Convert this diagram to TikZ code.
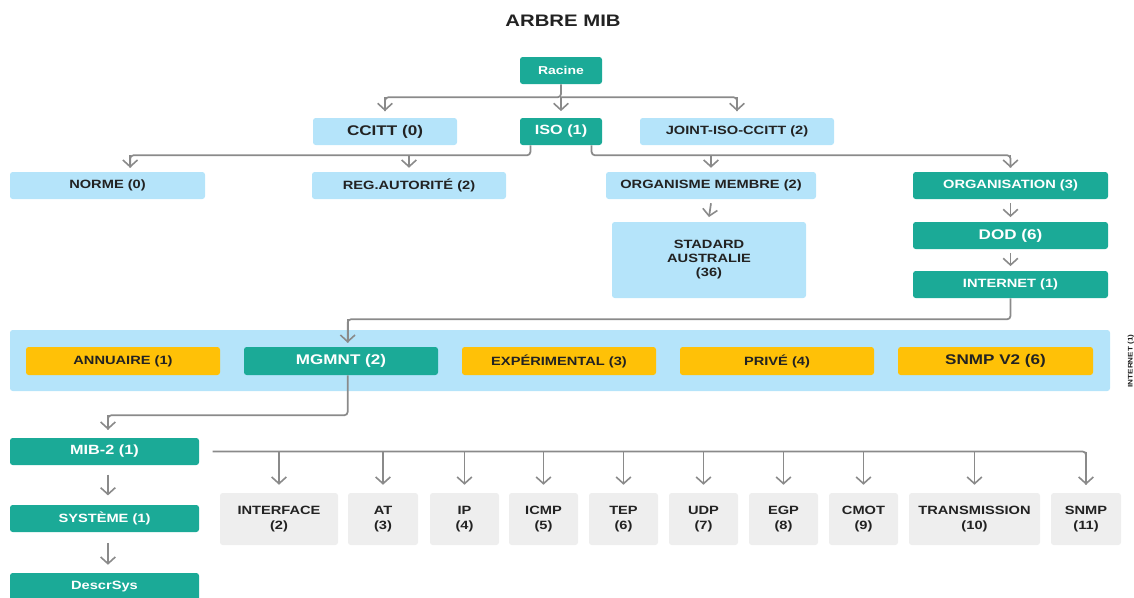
\documentclass[tikz,border=0pt]{standalone}
\usepackage{fontspec}
\setmainfont{Liberation Sans}[FakeStretch=1.22]
\usetikzlibrary{arrows.meta}

\definecolor{mibteal}{HTML}{1BAA97}
\definecolor{mibblue}{HTML}{B5E4FA}
\definecolor{mibamber}{HTML}{FFC107}
\definecolor{mibgray}{HTML}{EEEEEE}
\definecolor{mibline}{HTML}{8A8A8A}
\definecolor{mibtext}{HTML}{222222}

% box given by its corners (x1,y1)-(x2,y2), in pixel units
\newcommand\mibbox[7]{%
  \node[#6, minimum width={(#4-#2)*0.75pt}, minimum height={(#5-#3)*0.75pt}]
    (#1) at ({(#2+#4)/2},{(#3+#5)/2}) {#7};}

\tikzset{
  box/.style={rounded corners=2pt, inner sep=0pt, align=center,
    font=\bfseries\fontsize{9}{11}\selectfont},
  tealbox/.style={box, fill=mibteal, text=white},
  bluebox/.style={box, fill=mibblue, text=mibtext},
  amberbox/.style={box, fill=mibamber, text=mibtext},
  graybox/.style={box, fill=mibgray, text=mibtext},
  big/.style={font=\bfseries\fontsize{10.5}{12}\selectfont},
  mid/.style={font=\bfseries\fontsize{10}{12}\selectfont},
  bus/.style={draw=mibline, line width=1.3pt, rounded corners=2.5pt},
  link/.style={draw=mibline, line width=1.3pt,
    -{Straight Barb[length=5pt,width=11pt,line width=1.2pt]}},
}

\begin{document}
\begin{tikzpicture}[x=0.75pt, y=-0.75pt]
\useasboundingbox (0,0) rectangle (1134,597);
\clip (0,0) rectangle (1134,597);

\node[font=\bfseries\fontsize{12.5}{14}\selectfont, text=mibtext] (title) at (563,21) {ARBRE MIB};

% upper levels
\mibbox{racine}{520}{57}{602}{84}{tealbox,font=\bfseries\fontsize{8.6}{10}\selectfont}{Racine}
\mibbox{ccitt}{313}{118}{457}{145}{bluebox,big}{CCITT (0)}
\mibbox{iso}{520}{118}{602}{145}{tealbox,mid}{ISO (1)}
\mibbox{joint}{640}{118}{834}{145}{bluebox}{JOINT-ISO-CCITT (2)}

\mibbox{norme}{10}{172}{205}{199}{bluebox}{NORME (0)}
\mibbox{reg}{312}{172}{506}{199}{bluebox}{REG.AUTORITÉ (2)}
\mibbox{orgm}{606}{172}{816}{199}{bluebox}{ORGANISME MEMBRE (2)}
\mibbox{orgz}{913}{172}{1108}{199}{tealbox}{ORGANISATION (3)}
\mibbox{std}{612}{222}{806}{298}{bluebox,font=\bfseries\fontsize{9}{10.5}\selectfont}{STADARD\\AUSTRALIE\\(36)}
\mibbox{dod}{913}{222}{1108}{249}{tealbox,big}{DOD (6)}
\mibbox{internet}{913}{271}{1108}{298}{tealbox}{INTERNET (1)}

% internet subtree band
\mibbox{panel}{10}{330}{1110}{391}{bluebox}{}
\mibbox{annuaire}{26}{347}{220}{375}{amberbox}{ANNUAIRE (1)}
\mibbox{mgmnt}{244}{347}{438}{375}{tealbox,big}{MGMNT (2)}
\mibbox{exper}{462}{347}{656}{375}{amberbox}{EXPÉRIMENTAL (3)}
\mibbox{prive}{680}{347}{874}{375}{amberbox}{PRIVÉ (4)}
\mibbox{snmpv}{898}{347}{1093}{375}{amberbox,big}{SNMP V2 (6)}
\node[rotate=90, font=\bfseries\fontsize{5}{6}\selectfont, text=mibtext] (side) at (1131,361) {INTERNET (1)};

% mib-2 branch
\mibbox{mib}{10}{438}{199}{465}{tealbox,mid}{MIB-2 (1)}
\mibbox{sys}{10}{505}{199}{532}{tealbox}{SYSTÈME (1)}
\mibbox{descr}{10}{573}{199}{601}{tealbox}{DescrSys}

\mibbox{iface}{220}{493}{338}{545}{graybox}{INTERFACE\\(2)}
\mibbox{at}{348}{493}{418}{545}{graybox}{AT\\(3)}
\mibbox{ip}{430}{493}{499}{545}{graybox}{IP\\(4)}
\mibbox{icmp}{509}{493}{578}{545}{graybox}{ICMP\\(5)}
\mibbox{tep}{589}{493}{658}{545}{graybox}{TEP\\(6)}
\mibbox{udp}{669}{493}{738}{545}{graybox}{UDP\\(7)}
\mibbox{egp}{749}{493}{818}{545}{graybox}{EGP\\(8)}
\mibbox{cmot}{829}{493}{898}{545}{graybox}{CMOT\\(9)}
\mibbox{trans}{909}{493}{1040}{545}{graybox}{TRANSMISSION\\(10)}
\mibbox{snmp}{1051}{493}{1121}{545}{graybox}{SNMP\\(11)}

% arrow tips above the target boxes
\coordinate (tccitt) at ([yshift=5pt]ccitt.north);
\coordinate (tiso)   at ([yshift=5pt]iso.north);
\coordinate (tjoint) at ([yshift=5pt]joint.north);
\coordinate (tnorme) at ([xshift=17pt,yshift=3pt]norme.north);
\coordinate (treg)   at ([yshift=3pt]reg.north);
\coordinate (torgm)  at ([yshift=3pt]orgm.north);
\coordinate (torgz)  at ([yshift=3pt]orgz.north);
\coordinate (tmgmnt) at ([xshift=5pt,yshift=3pt]mgmnt.north);
\coordinate (tmib)   at ([xshift=2.6pt,yshift=6pt]mib.north);

% connectors: root
\draw[bus] (racine.south) -- ++(0,13) coordinate (busa) -| (tccitt);
\draw[bus] (busa) -| (tjoint);
\foreach \t in {tccitt,tiso,tjoint}
  \draw[link] (busa -| \t) -- (\t);

% connectors: iso
\draw[bus] ([xshift=8pt]iso.south west) -- ++(0,10) coordinate (busl) -| (tnorme);
\draw[bus] ([xshift=-8pt]iso.south east) -- ++(0,10) coordinate (busr) -| (torgz);
\foreach \t in {tnorme,treg}
  \draw[link] (busl -| \t) -- (\t);
\foreach \t in {torgm,torgz}
  \draw[link] (busr -| \t) -- (\t);

% connectors: vertical chains
\draw[link] ([yshift=-3pt]orgm.south) -- ([yshift=3.5pt]std.north);
\draw[link] ([yshift=-3pt]orgz.south) -- ([yshift=3.5pt]dod.north);
\draw[link] ([yshift=-3pt]dod.south) -- ([yshift=3.5pt]internet.north);

% connectors: internet -> mgmnt -> mib-2
\draw[bus] (internet.south) -- ++(0,21) coordinate (busi) -| (tmgmnt);
\draw[link] (busi -| tmgmnt) -- (tmgmnt);
\draw[bus] ([xshift=5pt]mgmnt.south) -- ++(0,40) coordinate (busg) -| (tmib);
\draw[link] (busg -| tmib) -- (tmib);
\draw[link] ([xshift=2.6pt,yshift=-7pt]mib.south) -- ([xshift=2.6pt,yshift=7pt]sys.north);
\draw[link] ([xshift=2.6pt,yshift=-8pt]sys.south) -- ([xshift=2.6pt,yshift=6pt]descr.north);

% connectors: mib-2 children
\draw[bus] ([xshift=10pt]mib.east) coordinate (busm) -| ([yshift=6pt]snmp.north);
\foreach \n in {iface,at,ip,icmp,tep,udp,egp,cmot,trans,snmp}
  \draw[link] (busm -| \n.north) -- ([yshift=6pt]\n.north);
\end{tikzpicture}
\end{document}
